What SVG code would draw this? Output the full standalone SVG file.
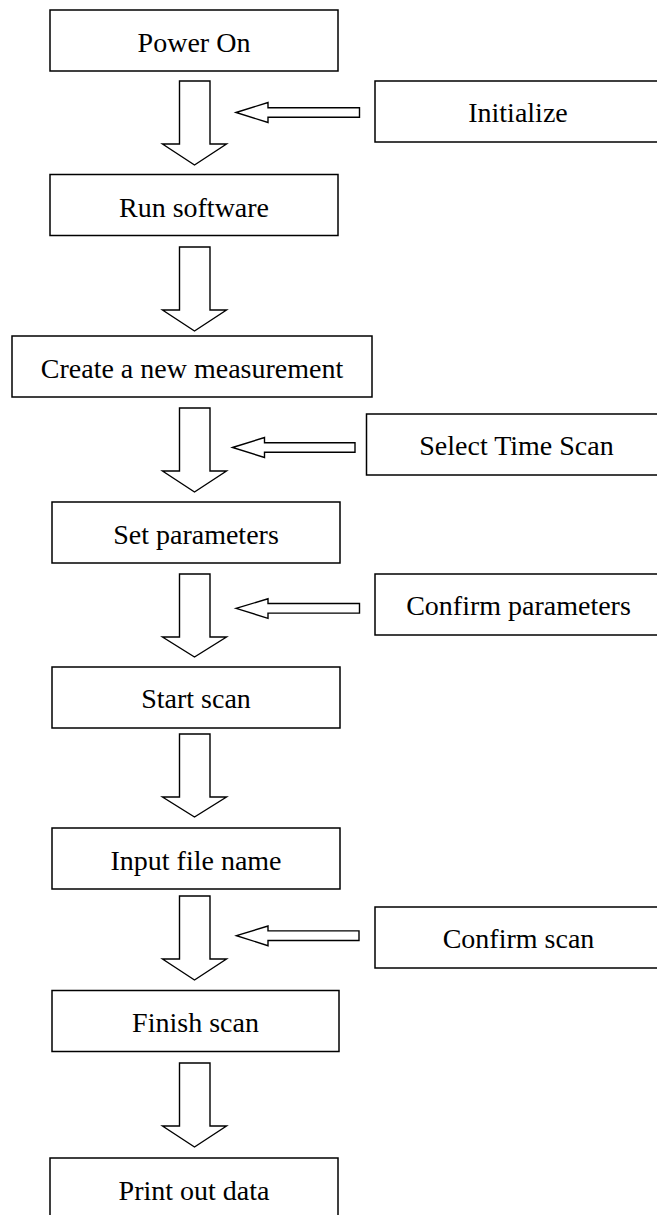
<svg xmlns="http://www.w3.org/2000/svg" width="657" height="1215" viewBox="0 0 657 1215">
<style>
.box{fill:#fff;stroke:#000;stroke-width:1.5}
.arr{fill:#fff;stroke:#000;stroke-width:1.4;stroke-linejoin:miter}
.t{font-size:28px;fill:#000;text-anchor:middle}
</style>
<rect width="657" height="1215" fill="#fff"/>
<g id="connectors">
<path class="arr" d="M179.5,81 H210 V144 H226.5 L194.5,165 L162.5,144 H179.5 Z"/>
<path class="arr" d="M179.5,247 H210 V310 H226.5 L194.5,331 L162.5,310 H179.5 Z"/>
<path class="arr" d="M179.5,408 H210 V471 H226.5 L194.5,492 L162.5,471 H179.5 Z"/>
<path class="arr" d="M179.5,574 H210 V637 H226.5 L194.5,657 L162.5,637 H179.5 Z"/>
<path class="arr" d="M179.5,734 H210 V797 H226.5 L194.5,817 L162.5,797 H179.5 Z"/>
<path class="arr" d="M179.5,896 H210 V959 H226.5 L194.5,980 L162.5,959 H179.5 Z"/>
<path class="arr" d="M179.5,1063 H210 V1126 H226.5 L194.5,1147 L162.5,1126 H179.5 Z"/>
<path class="arr" d="M236,112.5 L268,102.5 V107.7 H359.5 V117.3 H268 V122.5 Z"/>
<path class="arr" d="M232.5,447.5 L264.5,437.5 V442.7 H355 V452.3 H264.5 V457.5 Z"/>
<path class="arr" d="M236,608.3 L268,598.8 V603.5 H359.5 V613.1 H268 V618.3 Z"/>
<path class="arr" d="M236.5,935.7 L268,926 V930.9 H359 V940.5 H268 V945.7 Z"/>
</g>
<g font-family="Liberation Serif, Times New Roman, DejaVu Serif, serif">
<g id="n1"><rect class="box" x="50" y="10" width="288" height="61"/><text class="t" x="194" y="52">Power On</text></g>
<g id="n2"><rect class="box" x="50" y="174.5" width="288" height="61"/><text class="t" x="194" y="216.5">Run software</text></g>
<g id="n3"><rect class="box" x="12" y="336" width="360" height="61"/><text class="t" x="192" y="377.5">Create a new measurement</text></g>
<g id="n4"><rect class="box" x="52" y="502" width="288" height="61"/><text class="t" x="196" y="543.5">Set parameters</text></g>
<g id="n5"><rect class="box" x="52" y="667" width="288" height="61"/><text class="t" x="196" y="708">Start scan</text></g>
<g id="n6"><rect class="box" x="52" y="828" width="288" height="61"/><text class="t" x="196" y="870">Input file name</text></g>
<g id="n7"><rect class="box" x="52" y="990.5" width="287" height="61"/><text class="t" x="195.5" y="1031.5">Finish scan</text></g>
<g id="n8"><rect class="box" x="50" y="1158" width="288" height="64"/><text class="t" x="194" y="1199.5">Print out data</text></g>
<g id="s1"><rect class="box" x="375" y="81" width="300" height="61"/><text class="t" x="518" y="122">Initialize</text></g>
<g id="s2"><rect class="box" x="366.5" y="414" width="310" height="61"/><text class="t" x="516.5" y="455">Select Time Scan</text></g>
<g id="s3"><rect class="box" x="375" y="574" width="300" height="61"/><text class="t" x="518.5" y="615">Confirm parameters</text></g>
<g id="s4"><rect class="box" x="375" y="907" width="300" height="61"/><text class="t" x="518.5" y="948">Confirm scan</text></g>
</g>
</svg>
